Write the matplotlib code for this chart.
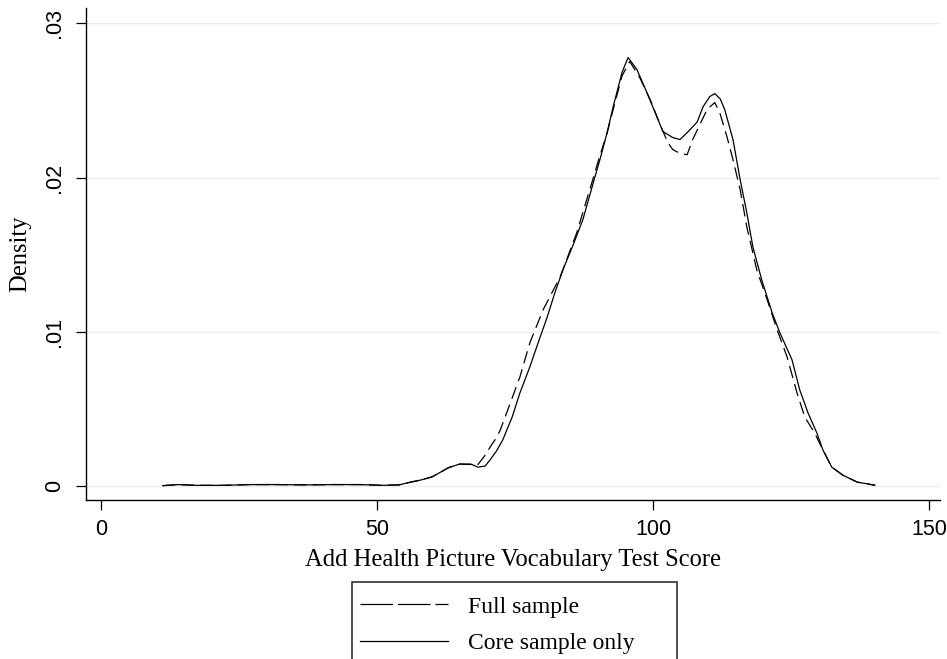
import matplotlib
matplotlib.use("Agg")
import matplotlib.pyplot as plt
from matplotlib.lines import Line2D
from matplotlib.patches import Rectangle

# kernel density estimates of the vocabulary score, evaluated on a coarse grid
full_x = [11.2, 14, 17.5, 22, 27, 32, 37, 42, 47, 51, 54, 56, 58, 60, 61.5, 63, 65, 67,
          68.3, 69.6, 70.8, 71.4, 72.3, 73.7, 75.9, 77.7, 80.1, 83.2, 86.2, 89.1, 90.0,
          91.7, 93.0, 94.4, 95.8, 97.6, 99.5, 101.3, 102.7, 103.6, 105.0, 106.2, 107.2,
          108.5, 109.8, 111.2, 112.1, 113.4, 114.5, 115.8, 117.0, 118.8, 120.7, 122.5,
          124.3, 126.1, 127.5, 129.3, 130.8, 132.4, 134.4, 137.0, 140.2]
full_y = [0.00003, 0.0001, 0.00005, 0.00005, 0.0001, 0.0001, 0.00008, 0.0001, 0.0001,
          0.00005, 0.00008, 0.00025, 0.0004, 0.0006, 0.0009, 0.0012, 0.00143, 0.0014,
          0.0014, 0.002, 0.0027, 0.0030, 0.0036, 0.00494, 0.00708, 0.00929, 0.01143,
          0.01357, 0.01643, 0.01987, 0.02097, 0.0229, 0.0247, 0.0266, 0.02753, 0.02649,
          0.02506, 0.02344, 0.02227, 0.02182, 0.02155, 0.02149, 0.02247, 0.02344, 0.02442,
          0.02487, 0.02422, 0.02266, 0.02117, 0.01922, 0.01682, 0.01403, 0.01208, 0.01013,
          0.00838, 0.00604, 0.00448, 0.00344, 0.00234, 0.00123, 0.00071, 0.00026, 0.00006]

core_x = [11.2, 14, 17.5, 22, 27, 32, 37, 42, 47, 51, 54, 56, 58, 60, 61.5, 63, 65, 67,
          68.3, 69.6, 70.5, 71.7, 72.8, 74.5, 75.9, 77.7, 79.2, 80.8, 82.2, 83.7, 85.5,
          87.3, 89.5, 90.4, 91.7, 92.8, 94.4, 95.5, 97.1, 98.9, 100.4, 101.8, 103.6, 104.9,
          106.2, 108.0, 109.1, 110.3, 111.2, 112.2, 113.0, 114.5, 115.8, 117.0, 118.1,
          119.7, 121.6, 123.0, 125.2, 126.6, 128.1, 129.7, 130.8, 132.4, 134.4, 137.0, 140.2]
core_y = [0.00003, 0.0001, 0.00005, 0.00005, 0.0001, 0.0001, 0.00008, 0.0001, 0.0001,
          0.00005, 0.00008, 0.00025, 0.0004, 0.0006, 0.0009, 0.0012, 0.00143, 0.00143,
          0.00123, 0.0013, 0.0017, 0.0023, 0.003, 0.00448, 0.00604, 0.00773, 0.00929,
          0.01091, 0.0125, 0.01403, 0.0156, 0.01727, 0.02006, 0.02117, 0.02292, 0.02461,
          0.02682, 0.02779, 0.02701, 0.02552, 0.02422, 0.02299, 0.0226, 0.02247, 0.02292,
          0.0236, 0.02461, 0.02526, 0.02545, 0.0251, 0.02442, 0.02247, 0.01987, 0.01773,
          0.01552, 0.01338, 0.01123, 0.00994, 0.00818, 0.00623, 0.00474, 0.00344, 0.00234,
          0.00123, 0.00071, 0.00026, 0.00006]

x_ticks = [0, 50, 100, 150]
y_ticks = [0, 0.01, 0.02, 0.03]
y_tick_labels = ['0', '.01', '.02', '.03']
series_labels = ['Full sample', 'Core sample only']

serif = ['Liberation Serif', 'DejaVu Serif']
sans = ['Liberation Sans', 'DejaVu Sans']

fig = plt.figure(figsize=(9.47, 6.59), dpi=100)
ax = fig.add_axes([86 / 947, 1 - 500 / 659, 854 / 947, 492 / 659])

ax.plot(full_x, full_y, color='black', lw=0.9, dashes=(10, 5))
ax.plot(core_x, core_y, color='black', lw=0.9)

ax.set_xlim(-2.7, 152)
ax.set_ylim(-0.0009, 0.031)
ax.set_xticks(x_ticks)
ax.set_yticks(y_ticks)
ax.set_yticklabels(y_tick_labels, rotation=90, va='center')
for lab in ax.get_xticklabels() + ax.get_yticklabels():
    lab.set_family(sans)
    lab.set_fontsize(15.5)

ax.grid(axis='y', color='#e6eef0', lw=1)
ax.set_axisbelow(True)
for side in ('top', 'right'):
    ax.spines[side].set_visible(False)
for side in ('left', 'bottom'):
    ax.spines[side].set_linewidth(1.0)
ax.tick_params(axis='both', length=7, width=0.9, color='black')
ax.tick_params(axis='x', pad=7)
ax.tick_params(axis='y', pad=8)

ax.set_xlabel('Add Health Picture Vocabulary Test Score', family=serif, fontsize=17.7, labelpad=6)
ax.set_ylabel('Density', family=serif, fontsize=17.7, labelpad=9)

# legend box below the plot, running off the bottom edge
fig.patches.append(Rectangle((352 / 947, -0.05), 325 / 947, 0.05 + 77 / 659,
                             transform=fig.transFigure, fill=False,
                             edgecolor='#333333', lw=1.2))
handles = [Line2D([], [], color='black', lw=0.9, dashes=(26, 4), dash_capstyle='butt'),
           Line2D([], [], color='black', lw=0.9)]
fig.legend(handles, series_labels, loc='upper left',
           bbox_to_anchor=(360 / 947, 1 - 596 / 659),
           frameon=False, prop={'family': serif, 'size': 17},
           handlelength=3.73, handletextpad=0.85, labelspacing=0.63,
           borderpad=0, borderaxespad=0)

fig.savefig('out.png', dpi=100)
